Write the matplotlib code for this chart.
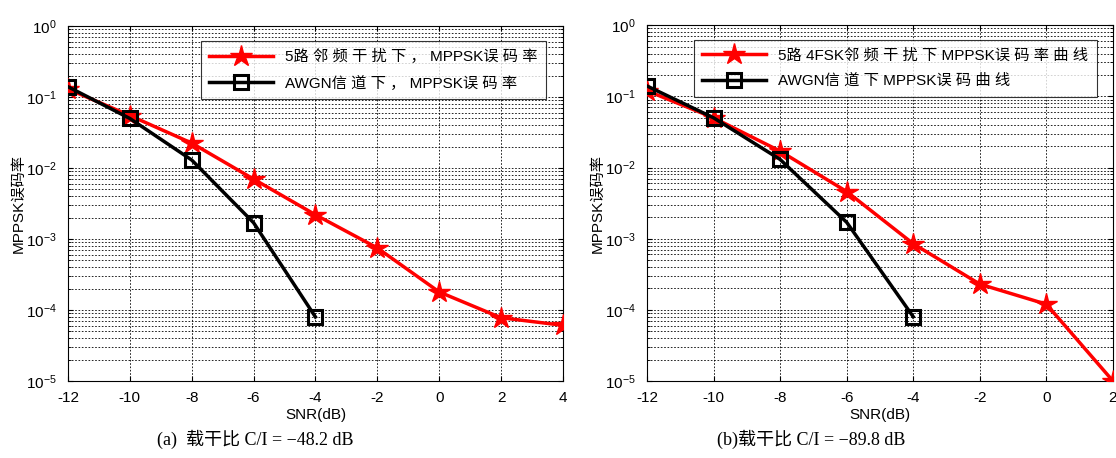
import numpy as np
import matplotlib
matplotlib.use("Agg")
import matplotlib.pyplot as plt

plt.rcParams['font.family'] = ['Liberation Sans', 'Noto Sans CJK SC']
plt.rcParams['mathtext.fontset'] = 'custom'
plt.rcParams['mathtext.rm'] = 'Liberation Sans'
plt.rcParams['axes.unicode_minus'] = False

# (a) C/I = -48.2 dB
snr_a = [-12, -10, -8, -6, -4, -2, 0, 2, 4]
ber_adj_a = [0.13, 0.055, 0.0225, 0.007, 0.0022, 7.5e-4, 1.8e-4, 7.8e-5, 6.1e-5]
snr_awgn = [-12, -10, -8, -6, -4]
ber_awgn = [0.14, 0.05, 0.013, 0.0017, 8e-5]

# (b) C/I = -89.8 dB
snr_b = [-12, -10, -8, -6, -4, -2, 0, 2]
ber_adj_b = [0.12, 0.05, 0.017, 0.0046, 8.5e-4, 2.3e-4, 1.2e-4, 1.0e-5]

labels_a = ["5路 邻 频 干 扰 下 ， MPPSK误 码 率", "AWGN信 道 下 ， MPPSK误 码 率"]
labels_b = ["5路 4FSK邻 频 干 扰 下 MPPSK误 码 率 曲 线", "AWGN信 道 下 MPPSK误 码 曲 线"]
captions = ["(a)  载干比 C/I = −48.2 dB", "(b)载干比 C/I = −89.8 dB"]

fig = plt.figure(figsize=(11.16, 4.58), dpi=100)
ax1 = fig.add_axes([0.0609, 0.168, 0.4435, 0.775])
ax2 = fig.add_axes([0.5797, 0.168, 0.4176, 0.777])


def draw(ax, snr, ber_adj, labels, xmax):
    ax.semilogy(snr, ber_adj, '-', color='red', lw=2.5, marker='*', ms=16,
                mfc='red', mec='red', label=labels[0], zorder=3)
    ax.semilogy(snr_awgn, ber_awgn, '-', color='black', lw=2.5, marker='s', ms=10,
                mfc='none', mec='black', mew=2.2, label=labels[1], zorder=4)
    ax.set_xlim(-12, xmax)
    ax.set_ylim(1e-5, 1)
    ax.set_xticks(np.arange(-12, xmax + 1, 2))
    ax.grid(True, which='major', color='black', linestyle=(0, (2, 2)), lw=0.6)
    ax.grid(True, which='minor', axis='y', color='black', linestyle=(0, (2, 2)), lw=0.6)
    ax.tick_params(direction='in', which='both', top=True, right=True, labelsize=11)
    ax.tick_params(axis='x', pad=7)
    ax.tick_params(axis='y', pad=8)
    ax.set_xlabel("SNR(dB)", fontsize=11, labelpad=2)
    ax.set_ylabel("MPPSK误码率", fontsize=11, labelpad=0)
    for s in ax.spines.values():
        s.set_linewidth(0.8)
    leg = ax.legend(loc='upper right', fontsize=11, handlelength=4.2, frameon=True,
                    fancybox=False, edgecolor='black', borderaxespad=0.6,
                    labelspacing=0.75, borderpad=0.55,
                    bbox_to_anchor=(0.985, 0.985))
    leg.get_frame().set_linewidth(0.8)


draw(ax1, snr_a, ber_adj_a, labels_a, 4)
draw(ax2, snr_b, ber_adj_b, labels_b, 2)

fig.text(0.229, 0.04, captions[0], ha='center', va='center', fontsize=13,
         family=['Liberation Serif', 'Noto Sans CJK SC'])
fig.text(0.727, 0.04, captions[1], ha='center', va='center', fontsize=13,
         family=['Liberation Serif', 'Noto Sans CJK SC'])

fig.savefig("out.png", dpi=100)
